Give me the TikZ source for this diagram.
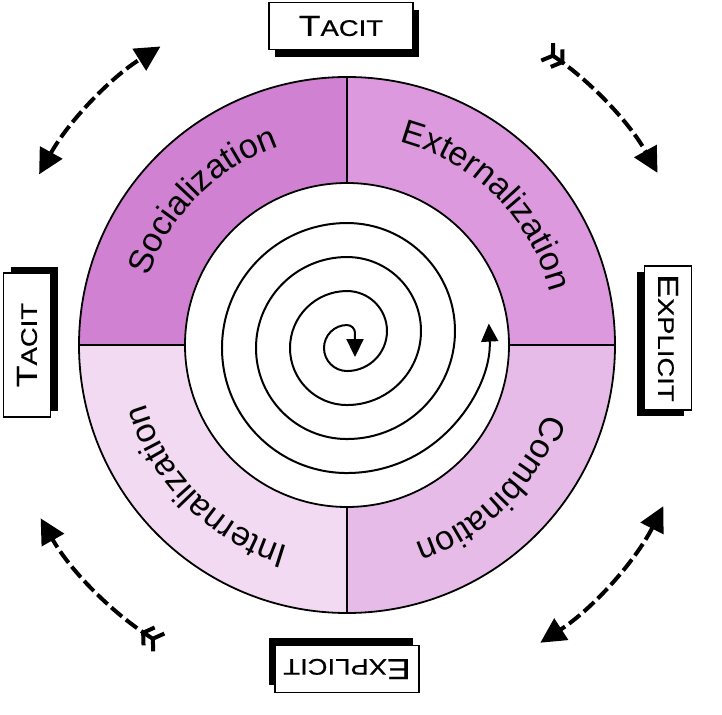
\documentclass[tikz,border=0pt]{standalone}
\usepackage{fontspec}
\setmainfont{Liberation Sans}
\newfontfamily\boxfont[FakeStretch=1.22,FakeBold=0.7]{Liberation Sans}
\usepackage{xcolor}
\usetikzlibrary{arrows.meta,decorations.text}

\definecolor{socialcol}{RGB}{209,129,209}
\definecolor{externcol}{RGB}{221,153,221}
\definecolor{combicol}{RGB}{231,187,231}
\definecolor{internalcol}{RGB}{243,218,243}

\newcommand{\tacitlabel}{{\fontsize{29}{29}\selectfont T}{\fontsize{22.5}{22.5}\selectfont ACIT}}
\newcommand{\explicitlabel}{{\fontsize{29}{29}\selectfont E}{\fontsize{22.5}{22.5}\selectfont XPLICIT}}
\newcommand{\segfont}{\fontsize{34}{34}\selectfont}

\begin{document}
\begin{tikzpicture}[
  x=1pt,y=1pt,
  ring/.style={line width=1.8pt},
  labelbox/.style={draw,line width=1.8pt,fill=white,minimum width=144pt,minimum height=47pt,inner sep=0pt,font=\boxfont},
  shadowbox/.style={fill=black,minimum width=144pt,minimum height=47pt,inner sep=0pt},
  seglabel/.style={decorate,decoration={text along path,text align=center,text={|\segfont|#1}}},
  spiralline/.style={line width=2pt,{Triangle[length=18pt,width=17pt]}-{Triangle[length=18pt,width=17pt]}},
  cycleline/.style={line width=4pt,dash pattern=on 14pt off 5pt},
  bothheads/.style={{Triangle[length=25pt,width=25pt]}-{Triangle[length=25pt,width=25pt]}},
  forkhead/.style={{Straight Barb[reversed,length=7pt,width=21pt]Straight Barb[reversed,length=7pt,width=21pt]}-{Triangle[length=25pt,width=25pt]}}
]
\useasboundingbox (-347,-369) rectangle (375,345);

\foreach \a/\col in {90/socialcol,0/externcol,-90/combicol,180/internalcol}
  \fill[\col] (\a:162) -- (\a:268) arc[start angle=\a,end angle=\a+90,radius=268]
    -- ({\a+90}:162) arc[start angle=\a+90,end angle=\a,radius=162] -- cycle;

\path[seglabel=Socialization] (180:210) arc[start angle=180,end angle=90,radius=210];
\path[seglabel=Externalization] (90:210) arc[start angle=90,end angle=0,radius=210];
\path[seglabel=Combination] (0:210) arc[start angle=0,end angle=-90,radius=210];
\path[seglabel=Internalization] (-90:210) arc[start angle=-90,end angle=-180,radius=210];

\foreach \a in {0,90,180,270}
  \draw[ring] (\a:162) -- (\a:268);
\draw[ring] (0,0) circle[radius=268];
\draw[ring] (0,0) circle[radius=162];

\coordinate (spiralout) at (141.8,21.4);
\draw[spiralline] (spiralout)
  arc[start angle=3,end angle=-90,radius=142]
  arc[start angle=-90,end angle=-270,radius=125]
  arc[start angle=90,end angle=-90,radius=108]
  arc[start angle=-90,end angle=-270,radius=91]
  arc[start angle=90,end angle=-90,radius=74]
  arc[start angle=-90,end angle=-270,radius=57]
  arc[start angle=90,end angle=-90,radius=40]
  arc[start angle=-90,end angle=-270,radius=23]
  arc[start angle=90,end angle=0,radius=8]
  -- ++(0,-24) coordinate (spiralin);

\foreach \x/\y/\rot/\txt/\nm in {-6/319/0/\tacitlabel/tacittop,-320/0/90/\tacitlabel/tacitleft,321/7/-90/\explicitlabel/explicitright,0/-324/180/\explicitlabel/explicitbottom}{
  \begin{scope}[shift={(\x,\y)},rotate=\rot]
    \node[shadowbox,rotate=\rot] at (6,-8) {};
    \node[labelbox,rotate=\rot] (\nm) at (0,0) {\txt};
  \end{scope}
}

\coordinate (socstart) at (151:352);
\coordinate (extstart) at (56:355);
\coordinate (intstart) at (238:352);
\coordinate (comstart) at (-27:355);
\draw[cycleline,bothheads] (socstart) arc[start angle=151,end angle=122,radius=352];
\draw[cycleline,forkhead] (extstart) arc[start angle=56,end angle=29,radius=355];
\draw[cycleline,forkhead] (intstart) arc[start angle=238,end angle=209.5,radius=352];
\draw[cycleline,bothheads] (comstart) arc[start angle=-27,end angle=-57,radius=355];
\end{tikzpicture}
\end{document}
